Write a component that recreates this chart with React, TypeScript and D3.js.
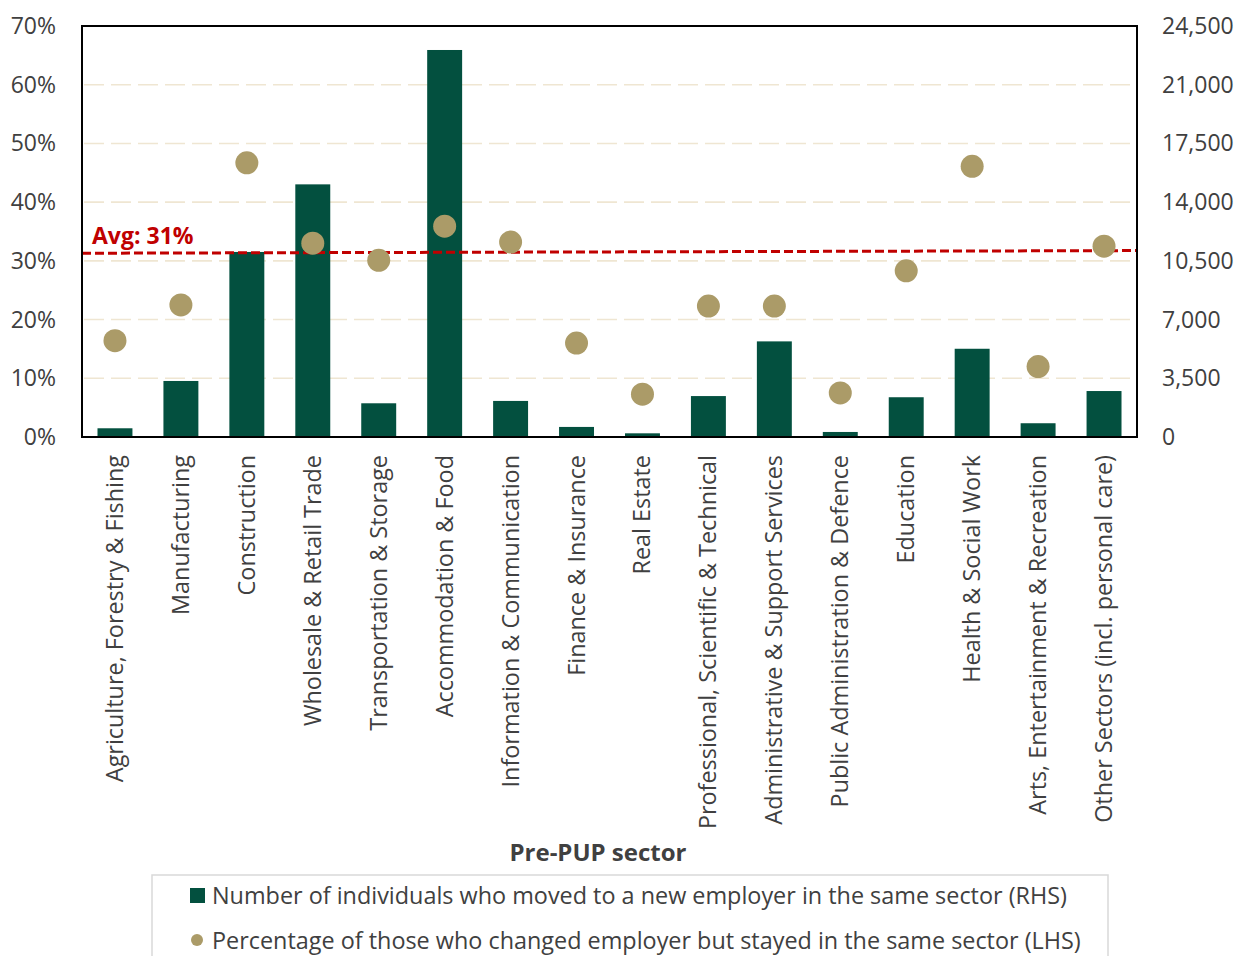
import React from 'react';
import * as d3 from 'd3';

const width = 1245;
const height = 956;
const margin = {top: 26, right: 108, bottom: 519, left: 82};
const green = '#03503f';
const gold = '#ab9b68';
const red = '#c00000';
const grid = '#efe6d2';
const textColor = '#404040';
const font = '"Open Sans", sans-serif';

const sectors = [
    'Agriculture, Forestry & Fishing',
    'Manufacturing',
    'Construction',
    'Wholesale & Retail Trade',
    'Transportation & Storage',
    'Accommodation & Food',
    'Information & Communication',
    'Finance & Insurance',
    'Real Estate',
    'Professional, Scientific & Technical',
    'Administrative & Support Services',
    'Public Administration & Defence',
    'Education',
    'Health & Social Work',
    'Arts, Entertainment & Recreation',
    'Other Sectors (incl. personal care)',
];
// RHS: number of individuals who moved to a new employer in the same sector
const movers = [520, 3340, 11030, 15060, 2010, 23070, 2150, 600, 220, 2440, 5700, 300, 2370, 5260, 820, 2740];
// LHS: share who changed employer but stayed in the same sector (%)
const stayedPct = [16.4, 22.5, 46.7, 33.0, 30.1, 35.9, 33.2, 16.0, 7.3, 22.3, 22.3, 7.5, 28.3, 46.1, 12.0, 32.5];
const leftTicks = [0, 10, 20, 30, 40, 50, 60, 70];
const rightTicks = [0, 3500, 7000, 10500, 14000, 17500, 21000, 24500];
const avgLine = [31.3, 31.75];
const avgLabel = 'Avg: 31%';
const xTitle = 'Pre-PUP sector';
const legendLabels = [
    'Number of individuals who moved to a new employer in the same sector (RHS)',
    'Percentage of those who changed employer but stayed in the same sector (LHS)',
];

export default function App() {
    const x0 = margin.left;
    const x1 = width - margin.right;
    const y0 = height - margin.bottom;
    const y1 = margin.top;

    const xScale = d3.scaleBand().domain(sectors).range([x0, x1]).paddingInner(0.47).paddingOuter(0.235);
    const yLeft = d3.scaleLinear().domain([0, 70]).range([y0, y1]);
    const yRight = d3.scaleLinear().domain([0, 24500]).range([y0, y1]);
    const fmt = d3.format(',');
    const fs = 23;
    const fsLabel = 23.4;

    return (
        <svg width={width} height={height} style={{position: 'absolute', left: 0, top: 0}}>
            <rect width={width} height={height} fill='#fff'/>
            {/* gridlines */}
            {leftTicks.filter(t => t > 0 && t < 70).map(t => (
                <line key={t} x1={x0 + 2} x2={x1 - 2} y1={yLeft(t)} y2={yLeft(t)}
                      stroke={grid} strokeWidth={1.6} strokeDasharray='20 7'/>
            ))}
            {/* bars */}
            {movers.map((v, i) => (
                <rect key={i} x={xScale(sectors[i])} width={xScale.bandwidth()}
                      y={yRight(v)} height={y0 - yRight(v)} fill={green}/>
            ))}
            {/* average line */}
            <line x1={x0} x2={x1} y1={yLeft(avgLine[0])} y2={yLeft(avgLine[1])}
                  stroke={red} strokeWidth={3} strokeDasharray='9 4'/>
            <text x={x0 + 10} y={yLeft(avgLine[0]) - 9} fill={red} fontFamily={font}
                  fontWeight='bold' fontSize={fs}>{avgLabel}</text>
            {/* dots */}
            {stayedPct.map((v, i) => (
                <circle key={i} cx={xScale(sectors[i])! + xScale.bandwidth() / 2} cy={yLeft(v)} r={11.5} fill={gold}/>
            ))}
            {/* plot border */}
            <rect x={x0} y={y1} width={x1 - x0} height={y0 - y1} fill='none' stroke='#000' strokeWidth={2}/>
            {/* left axis */}
            {leftTicks.map(t => (
                <text key={t} x={x0 - 26} y={yLeft(t)} dy='0.35em' textAnchor='end'
                      fontFamily={font} fontSize={fs} fill={textColor}>{t}%</text>
            ))}
            {/* right axis */}
            {rightTicks.map(t => (
                <text key={t} x={x1 + 25} y={yRight(t)} dy='0.35em' textAnchor='start'
                      fontFamily={font} fontSize={fs} fill={textColor}>{fmt(t)}</text>
            ))}
            {/* category labels */}
            {sectors.map(s => {
                const cx = xScale(s)! + xScale.bandwidth() / 2;
                return (
                    <text key={s} transform={`translate(${cx + 8},${y0 + 18}) rotate(-90)`} textAnchor='end'
                          fontFamily={font} fontSize={fsLabel} fill={textColor}>{s}</text>
                );
            })}
            <text x={598} y={861} textAnchor='middle' fontFamily={font} fontWeight='bold'
                  fontSize={24} fill={textColor}>{xTitle}</text>
            {/* legend */}
            <rect x={152} y={875} width={956} height={100} fill='#fff' stroke='#d9d9d9' strokeWidth={1.5}/>
            <rect x={190} y={888} width={15} height={15} fill={green}/>
            <text x={212} y={904} fontFamily={font} fontSize={fsLabel} fill={textColor}>{legendLabels[0]}</text>
            <circle cx={197} cy={940} r={6} fill={gold}/>
            <text x={212} y={949} fontFamily={font} fontSize={fsLabel} fill={textColor}>{legendLabels[1]}</text>
        </svg>
    );
}
